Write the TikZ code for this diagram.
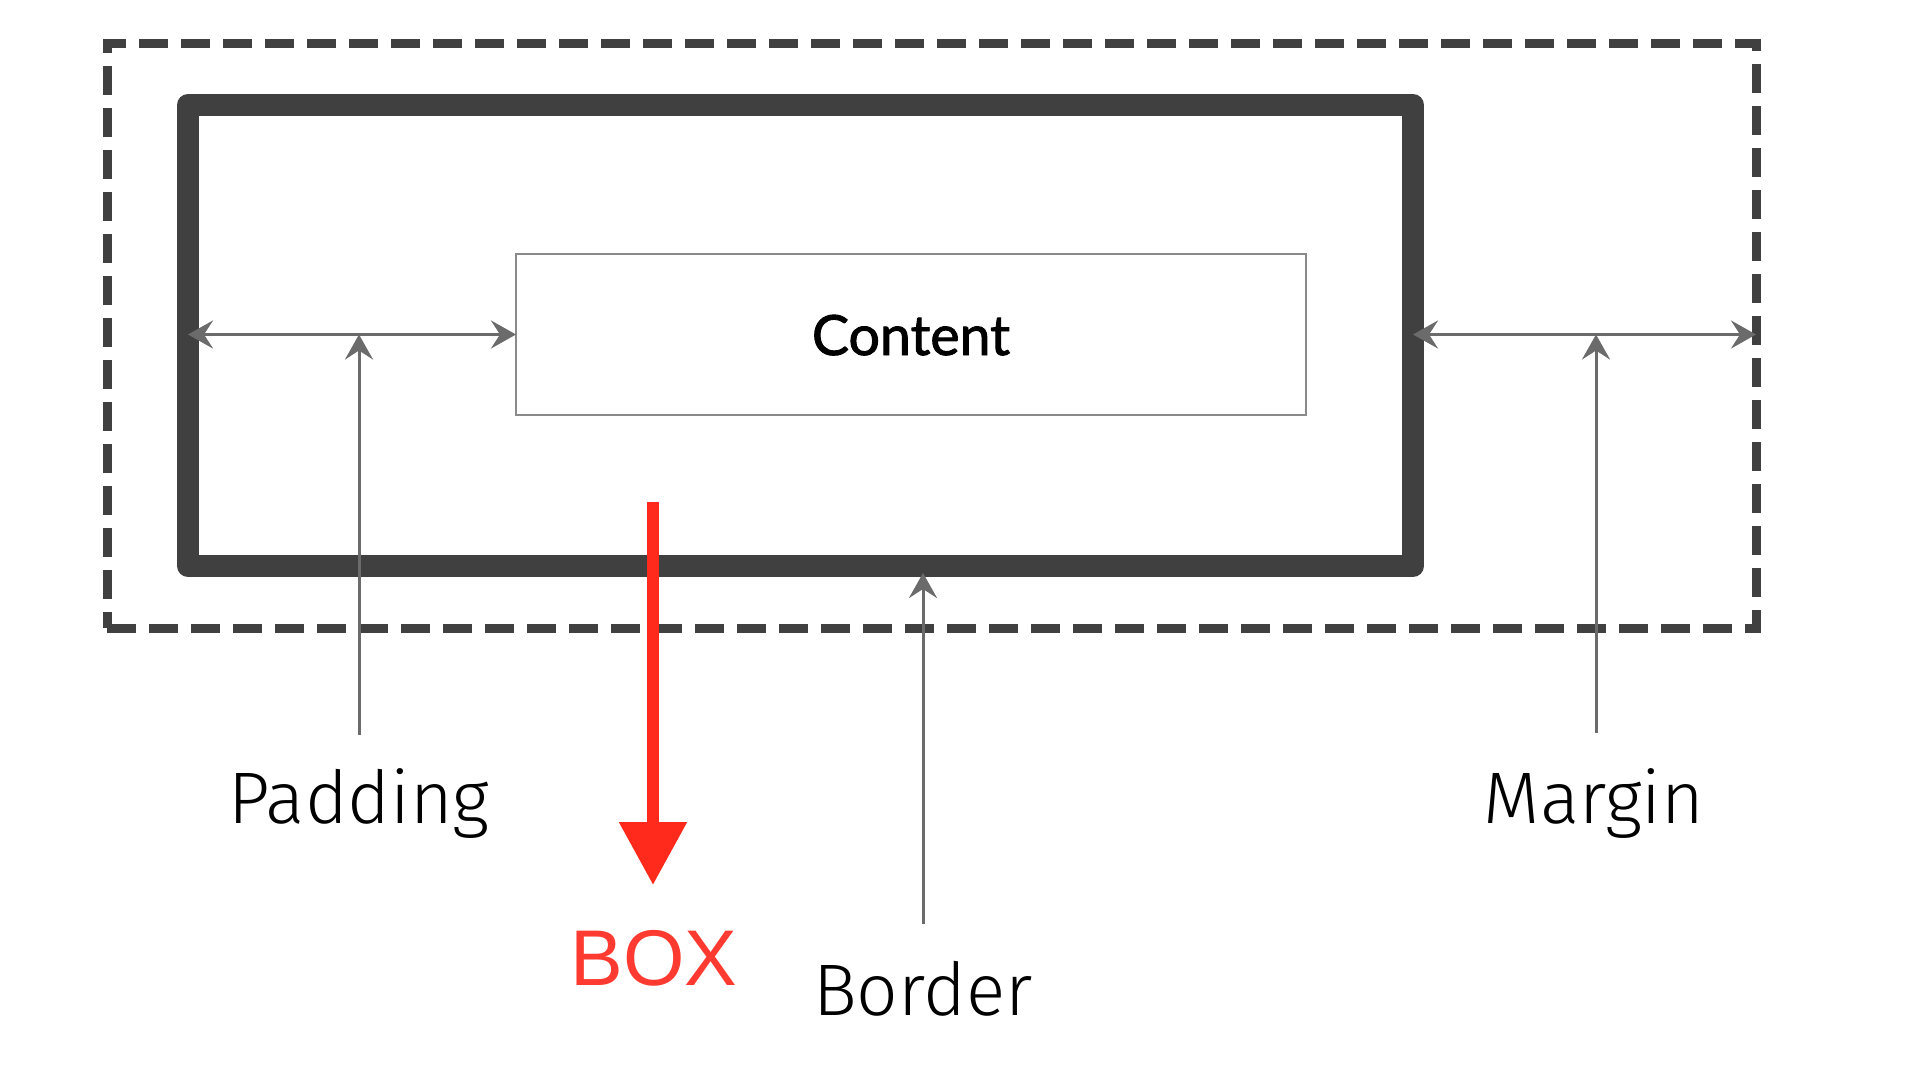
\documentclass[tikz,border=0pt]{standalone}
\usepackage{fontspec}
\usetikzlibrary{arrows.meta}
\newfontfamily\lblfont{Fira Sans}[UprightFont={* Light}]
\newfontfamily\cntfont{Lato}[BoldFont={*}, BoldFeatures={FakeBold=1.6}]
\newfontfamily\boxfont{Liberation Sans}
\definecolor{frame}{HTML}{404040}
\definecolor{guide}{HTML}{6B6B6B}
\definecolor{cbox}{HTML}{8A8A8A}
\definecolor{alert}{HTML}{FF2A1C}
\definecolor{alerttext}{HTML}{FF3A30}
\tikzset{
  x=1pt, y=-1pt,
  layerbox/.style={draw, rectangle, outer sep=0pt, inner sep=0pt},
  marginbox/.style={layerbox, draw=frame, line width=9pt, dash pattern=on 29pt off 13pt},
  borderbox/.style={layerbox, draw=frame, line width=22pt, line join=round},
  contentbox/.style={layerbox, draw=cbox, line width=2pt, fill=white},
  guidearrow/.style={draw=guide, line width=3pt,
    -{Stealth[length=25pt, width=28pt, inset=9pt]}},
  guidearrows/.style={draw=guide, line width=3pt,
    {Stealth[length=25pt, width=28pt, inset=9pt]}-{Stealth[length=25pt, width=28pt, inset=9pt]}},
  redarrow/.style={draw=alert, line width=12pt,
    -{Triangle[length=63pt, width=65pt]}},
  label/.style={anchor=base, inner sep=0pt, font=\lblfont\fontsize{73}{80}\selectfont},
}
\begin{document}
\begin{tikzpicture}
  \useasboundingbox (0,0) rectangle (1920,1066);
  \fill[white] (0,0) rectangle (1920,1066);

  % the three nested boxes
  \node[marginbox, minimum width=1649pt, minimum height=585pt] (margin) at (931.5,335.5) {};
  \node[borderbox, minimum width=1225pt, minimum height=461pt] (border) at (800.5,335.5) {};
  \node[contentbox, minimum width=790pt, minimum height=161pt] (content) at (911,334.5) {};
  \node[anchor=base, inner sep=0pt, font=\cntfont\bfseries\fontsize{55.5}{62}\selectfont] (ctext) at (911,355) {Content};

  % horizontal extents of padding and margin
  \draw[guidearrows] (content.west -| border.west) -- (content.west);
  \draw[guidearrows] (content.east -| border.east) -- (content.east -| margin.east);

  % labels and their pointers
  \node[label] (padlbl) at (359,823) {Padding};
  \node[label] (bordlbl) at (923,1015) {Border};
  \node[label] (marglbl) at (1594,823) {Margin};
  \coordinate (padfoot) at (359,735);
  \coordinate (bordfoot) at (923,924);
  \coordinate (margfoot) at (1596,733);
  \draw[guidearrow] (padfoot) -- (padfoot |- content.west);
  \draw[guidearrow] (bordfoot) -- ([yshift=-7pt]bordfoot |- border.south);
  \draw[guidearrow] (margfoot) -- (margfoot |- content.east);

  % red pointer to the box label
  \node[anchor=base, inner sep=0pt, text=alerttext, font=\boxfont\fontsize{79}{86}\selectfont] (boxlbl) at (654,985) {BOX};
  \coordinate (redtop) at (653,502);
  \coordinate (redtip) at (653,885);
  \draw[redarrow] (redtop) -- (redtip);
\end{tikzpicture}
\end{document}
